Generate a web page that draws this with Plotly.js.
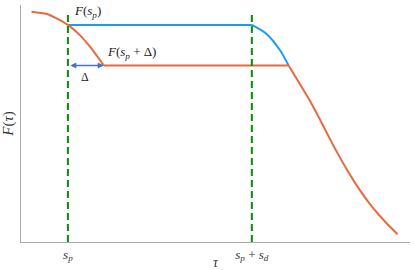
<!DOCTYPE html>
<html><head><meta charset="utf-8">
<script src="https://cdn.plot.ly/plotly-3.0.1.min.js"></script>
<style>body{margin:0;padding:0;background:#fff}#c{width:415px;height:270px}</style>
</head><body><div id="c"></div>
<script>
// (tau in units where s_p = 1, s_p + s_d = 5)
const sp = 1, spsd = 5, delta = 0.8;
const orangeLeftTau = [0.21, 0.54, 0.75, 1.0, 1.26, 1.48, 1.78];
const orangeLeftF   = [0.972, 0.962, 0.944, 0.916, 0.873, 0.824, 0.745];
const orangeFlatTau = [1.78, 5.8];
const orangeFlatF   = [0.745, 0.745];
const orangeRightTau = [5.8, 6.26, 6.54, 6.76, 7.07, 7.35, 7.63, 7.93, 8.17];
const orangeRightF   = [0.745, 0.597, 0.495, 0.412, 0.305, 0.219, 0.145, 0.079, 0.033];
const blueFlatTau = [1.0, 5.0];
const blueFlatF   = [0.916, 0.916];
const blueCurveTau = [5.0, 5.32, 5.61, 5.8];
const blueCurveF   = [0.916, 0.878, 0.81, 0.745];
const tickVals = [sp, spsd];
const tickText = ['<i>s</i><sub><i>p</i></sub>', '<i>s</i><sub><i>p</i></sub> + <i>s</i><sub><i>d</i></sub>'];

const orange = '#E8693F', blue = '#1A9BF5', green = '#0B8A0B', arrowBlue = '#4472C4';
const serif = 'Liberation Serif, DejaVu Serif, serif';

const traces = [
  {x: blueFlatTau, y: blueFlatF, mode: 'lines', line: {color: blue, width: 2}},
  {x: blueCurveTau, y: blueCurveF, mode: 'lines', line: {color: blue, width: 2, shape: 'spline', smoothing: 0.8}},
  {x: orangeLeftTau, y: orangeLeftF, mode: 'lines', line: {color: orange, width: 2, shape: 'spline', smoothing: 0.8}},
  {x: orangeFlatTau, y: orangeFlatF, mode: 'lines', line: {color: orange, width: 2}},
  {x: orangeRightTau, y: orangeRightF, mode: 'lines', line: {color: orange, width: 2, shape: 'spline', smoothing: 0.5}},
  {x: [sp, sp], y: [0, 0.97], mode: 'lines', line: {color: green, width: 2, dash: '7px,4px'}},
  {x: [spsd, spsd], y: [0, 0.97], mode: 'lines', line: {color: green, width: 2, dash: '7px,4px'}}
];

const layout = {
  width: 415, height: 270,
  margin: {l: 21, r: 5, t: 5, b: 28},
  showlegend: false,
  paper_bgcolor: '#fff', plot_bgcolor: '#fff',
  xaxis: {range: [-0.02, 8.44], showgrid: false, zeroline: false, showline: true,
          linecolor: '#aaaaaa', linewidth: 1, ticks: '', tickvals: tickVals, ticktext: tickText,
          tickfont: {family: serif, size: 13, color: '#333'},
          title: {text: '<i>τ</i>', font: {family: serif, size: 14, color: '#333'}, standoff: 0}},
  yaxis: {range: [0, 1], showgrid: false, zeroline: false, showline: true,
          linecolor: '#aaaaaa', linewidth: 1, ticks: '', showticklabels: false,
          title: {text: '<i>F</i>(<i>τ</i>)', font: {family: serif, size: 15, color: '#333'}, standoff: 2}},
  annotations: [
    {x: 1.08, y: 0.93, xref: 'x', yref: 'y', xanchor: 'left', yanchor: 'bottom', showarrow: false,
     text: '<i>F</i>(<i>s</i><sub><i>p</i></sub>)', font: {family: serif, size: 13, color: '#222'}},
    {x: 1.8, y: 0.755, xref: 'x', yref: 'y', xanchor: 'left', yanchor: 'bottom', showarrow: false,
     text: '<i>F</i>(<i>s</i><sub><i>p</i></sub> + Δ)', font: {family: serif, size: 13, color: '#222'}},
    {x: (sp + sp + delta) / 2 - 0.02, y: 0.735, xref: 'x', yref: 'y', xanchor: 'center', yanchor: 'top', showarrow: false,
     text: 'Δ', font: {family: serif, size: 12, color: '#222'}},
    {x: sp + delta - 0.02, y: 0.745, ax: sp + 0.02, ay: 0.745, xref: 'x', yref: 'y', axref: 'x', ayref: 'y',
     text: '', showarrow: true, arrowhead: 2, startarrowhead: 2, arrowside: 'end+start',
     arrowsize: 0.8, startarrowsize: 0.8, arrowwidth: 1.5, arrowcolor: arrowBlue}
  ]
};
Plotly.newPlot('c', traces, layout, {displayModeBar: false, staticPlot: true});
</script></body></html>
